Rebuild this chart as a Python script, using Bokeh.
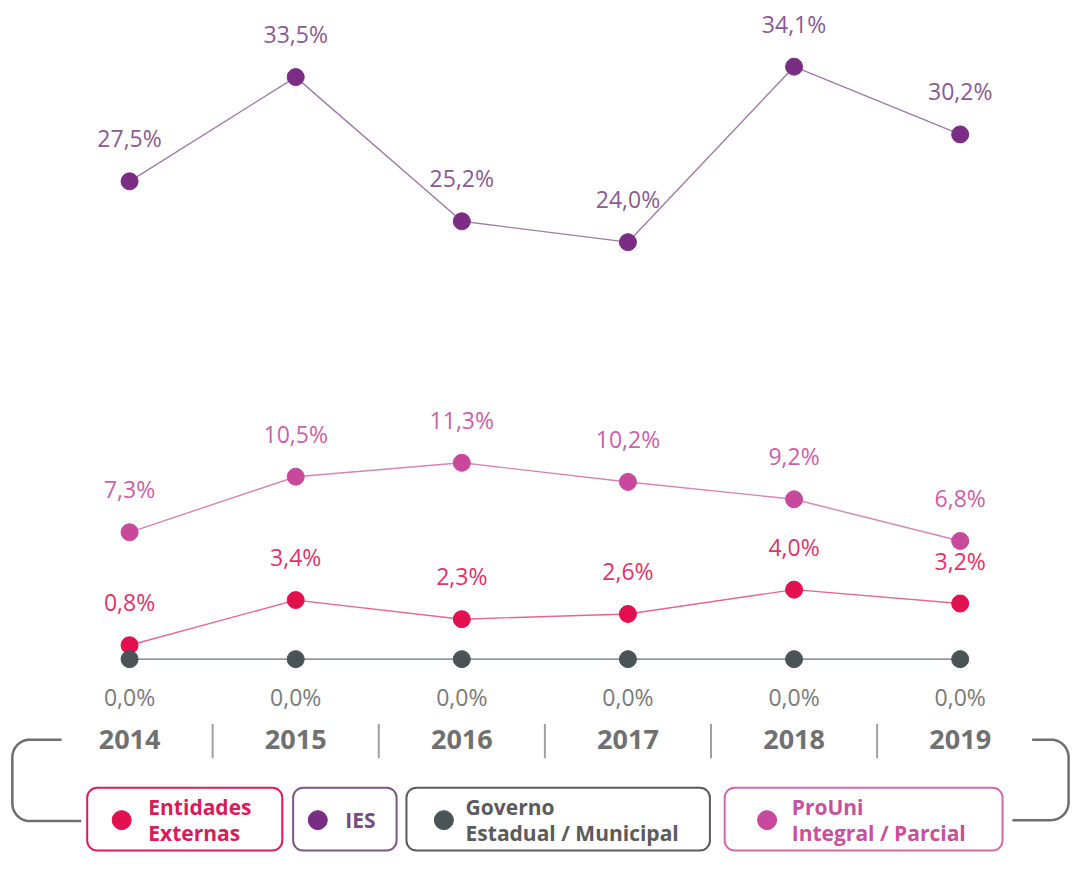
from bokeh.plotting import figure
from bokeh.models import Range1d, BoxAnnotation
from bokeh.core.properties import value
from bokeh.embed import file_html
from bokeh.resources import INLINE
import numpy as np

# ---------------- data ----------------
years = [2014, 2015, 2016, 2017, 2018, 2019]
year_labels = ["2014", "2015", "2016", "2017", "2018", "2019"]
ies = [27.5, 33.5, 25.2, 24.0, 34.1, 30.2]
prouni = [7.3, 10.5, 11.3, 10.2, 9.2, 6.8]
entidades = [0.8, 3.4, 2.3, 2.6, 4.0, 3.2]
governo = [0.0, 0.0, 0.0, 0.0, 0.0, 0.0]
legend_names = [["Entidades", "Externas"], ["IES"], ["Governo", "Estadual / Municipal"], ["ProUni", "Integral / Parcial"]]


def fmt(vals):
    return [f"{v:.1f}".replace(".", ",") + "%" for v in vals]


# ---------------- layout helpers (reference px -> data) ----------------
W, H = 1073, 853
REF_W, REF_H = 1089, 869
PX0, DX = 131.0, 168.6   # px of first year, px per year
PY0, DY = 671.0, 17.7    # px of value 0, px per unit


def dx(px):
    return years[0] + (px - PX0) / DX


def dy(py):
    return (PY0 - py) / DY


p = figure(width=W, height=H,
           x_range=Range1d(dx(0), dx(REF_W)),
           y_range=Range1d(dy(REF_H), dy(0)),
           output_backend="svg", toolbar_location=None,
           x_axis_location=None, y_axis_location=None,
           min_border=0)
p.grid.visible = False
p.outline_line_color = None
p.background_fill_color = "white"
p.border_fill_color = "white"

FONT = value("Open Sans")

series = [
    (ies, "#9f7ba5", "#7b2d86", "#8b5a90", -43),
    (prouni, "#d584b6", "#c8489b", "#cc5fa5", -43),
    (entidades, "#e6668c", "#e2104f", "#e0336a", -43),
    (governo, "#6a7173", "#4a5457", "#7a7a7a", 38),
]

for vals, lc, pc, tc, off in series:
    p.line(years, vals, line_color=lc, line_width=1.4)
    p.scatter(years, vals, size=17, fill_color=pc, line_color=pc)
    p.text(years, vals, text=fmt(vals), text_font=FONT, text_font_size="23px",
           text_color=tc, text_align="center", text_baseline="middle", y_offset=off)

# year labels
yl = dy(753)
p.text(years, [yl] * len(years), text=year_labels, text_font=FONT, text_font_size="27px",
       text_font_style="bold", text_color="#707070", text_align="center", text_baseline="middle")

# separators between years
mids = [(years[i] + years[i + 1]) / 2 for i in range(len(years) - 1)]
p.segment(x0=mids, y0=[dy(737)] * len(mids), x1=mids, y1=[dy(772)] * len(mids),
          line_color="#a0a0a0", line_width=2)


# brackets
def arc(cx, cy, r, a0, a1, n=16):
    t = np.linspace(np.radians(a0), np.radians(a1), n)
    return list(cx + r * np.cos(t)), list(cy - r * np.sin(t))


R = 18
lx, ly = [62], [753]
ax, ay = arc(12 + R, 753 + R, R, 90, 180)
lx += ax; ly += ay
ax, ay = arc(12 + R, 836 - R, R, 180, 270)
lx += ax; ly += ay
lx += [82]; ly += [836]
p.line([dx(v) for v in lx], [dy(v) for v in ly], line_color="#6e6e6e", line_width=2.5)

rx, ry = [1047], [753]
ax, ay = arc(1084 - R, 753 + R, R, 90, 0)
rx += ax; ry += ay
ax, ay = arc(1084 - R, 835 - R, R, 0, -90)
rx += ax; ry += ay
rx += [1027]; ry += [835]
p.line([dx(v) for v in rx], [dy(v) for v in ry], line_color="#6e6e6e", line_width=2.5)

# legend boxes
boxes = [
    (88, 286, "#e0195a", 123, 150, "#e2104f", "#d81b5a"),
    (297, 402, "#7d5585", 322, 350, "#7b2d86", "#7a4a82"),
    (412, 720, "#5a5a5a", 450, 472, "#4a5457", "#5b5b5b"),
    (735, 1017, "#d468a8", 778, 803, "#c8489b", "#c8509c"),
]
BT, BB = 802, 866
for (l, r, bc, cxp, txp, dc, tc), names in zip(boxes, legend_names):
    p.add_layout(BoxAnnotation(left=dx(l), right=dx(r), top=dy(BT), bottom=dy(BB),
                               fill_color="white", fill_alpha=1.0, line_color=bc,
                               line_alpha=1.0, line_width=2, border_radius=10,
                               level="underlay"))
    p.scatter([dx(cxp)], [dy(835)], size=19, fill_color=dc, line_color=dc)
    if len(names) == 1:
        ys = [dy(835)]
    else:
        ys = [dy(822), dy(848)]
    p.text([dx(txp)] * len(names), ys, text=names, text_font=FONT, text_font_size="21px",
           text_font_style="bold", text_color=tc, text_align="left", text_baseline="middle")

open("out.html", "w").write(file_html(p, INLINE))
